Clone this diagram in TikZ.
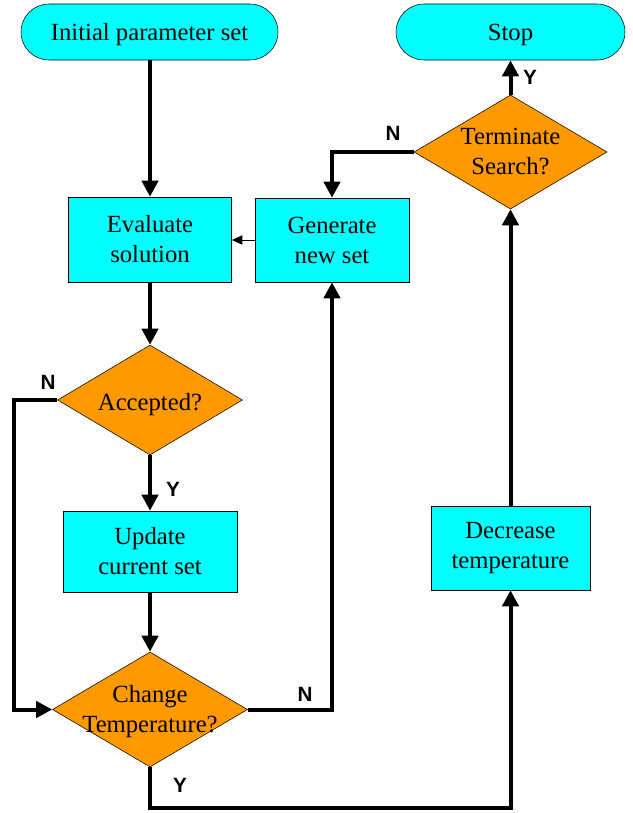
\documentclass[tikz,border=0pt]{standalone}
\usepackage{fontspec}
\setmainfont{Liberation Serif}
\setsansfont{Liberation Sans}
\usetikzlibrary{shapes.geometric,arrows.meta}
\definecolor{boxcyan}{RGB}{0,255,255}
\definecolor{decorange}{RGB}{255,153,0}

\begin{document}
\begin{tikzpicture}[x=0.75pt,y=-0.75pt]
\tikzstyle{terminal} = [draw, fill=boxcyan, rounded corners=21pt, minimum height=42pt, text depth=0pt, font=\fontsize{18.5}{22.5}\selectfont]
\tikzstyle{process} = [draw, fill=boxcyan, align=center, font=\fontsize{18.5}{22.5}\selectfont]
\tikzstyle{decision} = [draw, diamond, fill=decorange, inner sep=0pt]
\tikzstyle{dtext} = [align=center, font=\fontsize{18.5}{22.5}\selectfont]
\tikzstyle{flow} = [-{Triangle[length=12pt,width=12pt]}, line width=3pt]
\tikzstyle{thinflow} = [-{Triangle[length=8pt,width=7pt]}, line width=0.75pt]
\tikzstyle{lbl} = [inner sep=0pt, font=\fontsize{15.5}{17}\sffamily\bfseries]

\useasboundingbox (0,0) rectangle (632,813);

% boxes
\node [terminal, minimum width=192.75pt] (init) at (149.5,32) {Initial parameter set};
\node [terminal, minimum width=171.75pt] (stop) at (510.5,32) {Stop};
\node [process, minimum width=122.25pt, minimum height=63.75pt] (eval) at (150,239.5) {Evaluate\\solution};
\node [process, minimum width=115.5pt, minimum height=63pt] (gen) at (332,240) {Generate\\new set};
\node [process, minimum width=130.5pt, minimum height=60.75pt] (upd) at (150,551.5) {Update\\current set};
\node [process, minimum width=119.25pt, minimum height=63pt] (dec) at (510.5,548) {Decrease\\temperature};

% decisions
\node [decision, minimum width=144.75pt, minimum height=85.5pt] (term) at (510.5,152) {};
\node [dtext] at (term) {Terminate\\Search?};
\node [decision, minimum width=138.75pt, minimum height=82.5pt] (acc) at (150,400) {};
\node [dtext, yshift=-3.5pt] at (acc) {Accepted?};
\node [decision, minimum width=146.25pt, minimum height=86.25pt] (chg) at (150,709.5) {};
\node [dtext, yshift=-1.5pt] at (chg) {Change\\Temperature?};

% connectors
\draw [flow] (init.south -| eval) -- (eval);
\draw [flow] (eval) -- (acc);
\draw [flow] (acc) -- (upd);
\draw [flow] (acc.west) -- ++(-43,0) |- (chg.west);
\draw [flow] (upd) -- (chg);
\draw [flow] (chg.east) -| (gen.south);
\draw [flow] (chg.south) -- ++(0,41) -| (dec.south);
\draw [flow] (dec) -- (term);
\draw [flow] (term) -- (stop);
\draw [flow] (term.west) -| (gen.north);
\draw [thinflow] (gen.west) -- (gen.west -| eval.east);

% labels
\node [lbl] at (173,489) {Y};
\node [lbl] at (48,382) {N};
\node [lbl] at (305,694) {N};
\node [lbl] at (180,785) {Y};
\node [lbl] at (530,77) {Y};
\node [lbl] at (393,133) {N};
\end{tikzpicture}
\end{document}
